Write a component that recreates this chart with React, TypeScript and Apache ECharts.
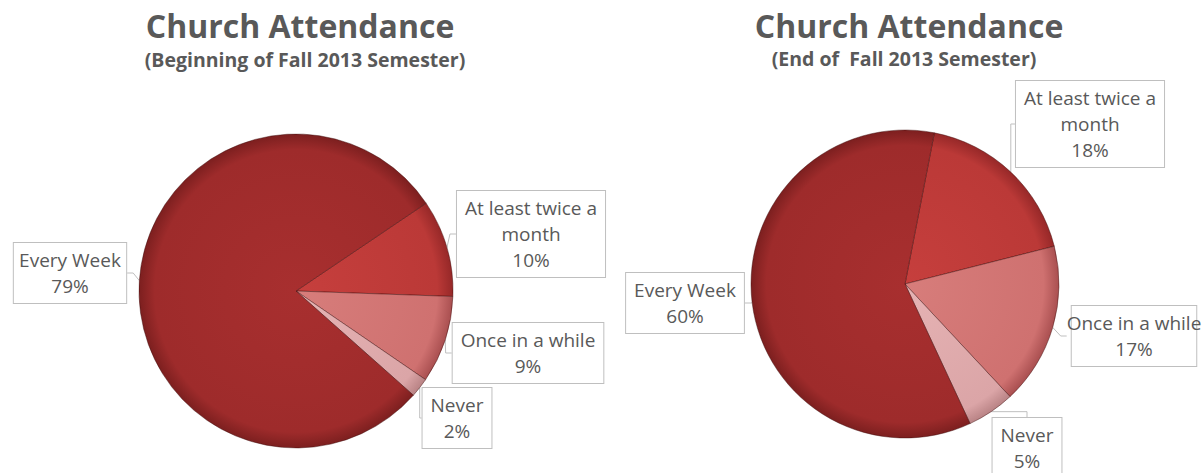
import React, { useEffect, useRef } from "react";
import * as echarts from "echarts";

const categories = ["At least twice a month", "Once in a while", "Never", "Every Week"];
const labelNames = ["At least twice a\nmonth", "Once in a while", "Never", "Every Week"];
const beginValues = [10, 9, 2, 79];
const endValues = [18, 17, 5, 60];
const titles = ["Church Attendance", "Church Attendance"];
const subtitles = ["(Beginning of Fall 2013 Semester)", "(End of  Fall 2013 Semester)"];

// [inner, mid, rim]
const sliceColors = [
  ["#c63f3d", "#bb3937", "#962828"],
  ["#d77d7b", "#cf7170", "#a94f50"],
  ["#e6b3b4", "#dba5a7", "#b98385"],
  ["#a82f2f", "#9e2b2b", "#7c1f1f"],
];

// label box centres for each series (layout only)
const labelPos = [
  [
    [531, 234],
    [528, 353],
    [457, 418],
    [70, 273],
  ],
  [
    [1090, 124],
    [1134, 336],
    [1027, 448],
    [685, 303],
  ],
];

const FONT = "Open Sans";

function makeData(values: number[], center: number[], radius: number) {
  return values.map((v, i) => ({
    name: categories[i],
    value: v,
    itemStyle: {
      color: new echarts.graphic.RadialGradient(
        center[0],
        center[1],
        radius,
        [
          { offset: 0, color: sliceColors[i][0] },
          { offset: 0.9, color: sliceColors[i][1] },
          { offset: 1, color: sliceColors[i][2] },
        ],
        true
      ),
    },
  }));
}

function makeSeries(idx: number, values: number[], center: number[], radius: number, startAngle: number) {
  return {
    type: "pie",
    center,
    radius,
    startAngle,
    clockwise: true,
    data: makeData(values, center, radius),
    itemStyle: { borderColor: "rgba(60,10,10,0.55)", borderWidth: 0.8 },
    label: {
      show: true,
      position: "outside",
      overflow: "none",
      formatter: (p: any) => labelNames[p.dataIndex] + "\n" + p.value + "%",
      color: "#595959",
      fontFamily: FONT,
      fontSize: 19,
      lineHeight: 26,
      align: "center",
      backgroundColor: "#ffffff",
      borderColor: "#bfbfbf",
      borderWidth: 1,
      padding: [4, 8, 4, 8],
    },
    labelLine: { show: true, length: 6, length2: 6, lineStyle: { color: "#bfbfbf", width: 1 } },
    labelLayout: (p: any) => {
      const pos = labelPos[idx][p.dataIndex];
      return { x: pos[0], y: pos[1], align: "center", verticalAlign: "middle" };
    },
    emphasis: { disabled: true },
  };
}

export default function App() {
  const ref = useRef<HTMLDivElement>(null);
  useEffect(() => {
    const chart = echarts.init(ref.current!, undefined, { renderer: "svg" });
    const titleStyle = { fontFamily: FONT, fontSize: 32, fontWeight: "bold", color: "#595959" };
    const subStyle = { fontFamily: FONT, fontSize: 19.5, fontWeight: "bold", color: "#595959" };
    chart.setOption({
      animation: false,
      backgroundColor: "#ffffff",
      title: [
        { text: titles[0], left: 295, top: 4, textAlign: "center", textStyle: titleStyle },
        { text: subtitles[0], left: 300, top: 44, textAlign: "center", textStyle: subStyle },
        { text: titles[1], left: 904, top: 4, textAlign: "center", textStyle: titleStyle },
        { text: subtitles[1], left: 899, top: 43, textAlign: "center", textStyle: subStyle },
      ],
      series: [
        makeSeries(0, beginValues, [296, 291], 157, 34),
        makeSeries(1, endValues, [905, 284], 154, 79),
      ],
    });
    return () => chart.dispose();
  }, []);
  return (
    <div
      ref={ref}
      style={{ position: "fixed", left: 0, top: 0, width: 1204, height: 473 }}
    />
  );
}
